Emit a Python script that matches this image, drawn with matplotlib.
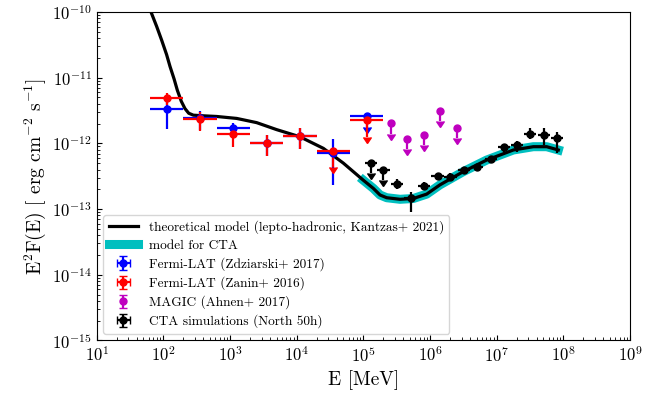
import numpy as np
import matplotlib.pyplot as plt
from matplotlib.ticker import LogLocator

plt.rcParams['font.family'] = 'serif'
plt.rcParams['font.serif'] = ['cmr10']
plt.rcParams['mathtext.fontset'] = 'cm'
plt.rcParams['axes.unicode_minus'] = False
plt.rcParams['axes.formatter.use_mathtext'] = True

# lepto-hadronic model (Kantzas+ 2021), E in MeV, E^2F(E) in erg/cm^2/s
model_E = np.array([65.3, 79.4, 94.4, 112, 126, 145, 162, 186, 211, 240, 282, 398, 631,
                    1259, 2512, 5012, 11220, 25120, 50120, 1.0e5, 1.41e5, 1.78e5, 2.24e5,
                    3.55e5, 5.62e5, 8.91e5, 1.41e6, 3.16e6, 7.08e6, 1.78e7, 3.55e7,
                    5.62e7, 8.41e7])
model_F = np.array([1.0e-10, 6.03e-11, 3.72e-11, 2.24e-11, 1.48e-11, 9.55e-12, 6.46e-12,
                    4.37e-12, 3.39e-12, 2.88e-12, 2.69e-12, 2.63e-12, 2.57e-12, 2.40e-12,
                    2.07e-12, 1.62e-12, 1.26e-12, 8.41e-13, 5.01e-13, 2.75e-13, 2.07e-13,
                    1.64e-13, 1.49e-13, 1.41e-13, 1.45e-13, 1.69e-13, 2.34e-13, 3.72e-13,
                    5.58e-13, 7.94e-13, 8.91e-13, 8.91e-13, 7.94e-13])
cta_model_from = 1.0e5

# Fermi-LAT energy bins (half-decade)
fermi_E = np.array([112, 355, 1120, 3550, 11200, 35500, 112000])
fermi_bin_lo = np.array([63, 200, 630, 2000, 6300, 20000, 63000])
fermi_bin_hi = np.array([200, 630, 2000, 6300, 20000, 63000, 200000])

# Fermi-LAT (Zdziarski+ 2017); last bin is an upper limit
zdz_F = np.array([3.34e-12, 2.41e-12, 1.70e-12, 1.00e-12, 1.31e-12, 7.10e-13, 2.60e-12])
zdz_lo = np.array([1.66e-12, 1.60e-12, 1.40e-12, 6.40e-13, 8.20e-13, 2.33e-13, 1.80e-12])
zdz_hi = np.array([4.57e-12, 3.16e-12, 2.07e-12, 1.34e-12, 1.73e-12, 1.15e-12, 2.60e-12])
zdz_ul = np.array([False, False, False, False, False, False, True])

# Fermi-LAT (Zanin+ 2016); last two bins are upper limits
zan_F = np.array([4.85e-12, 2.33e-12, 1.39e-12, 1.00e-12, 1.31e-12, 7.77e-13, 2.27e-12])
zan_lo = np.array([3.90e-12, 1.55e-12, 8.90e-13, 6.40e-13, 8.20e-13, 4.40e-13, 1.25e-12])
zan_hi = np.array([5.90e-12, 3.00e-12, 1.75e-12, 1.34e-12, 1.73e-12, 7.77e-13, 2.27e-12])
zan_ul = np.array([False, False, False, False, False, True, True])

# MAGIC (Ahnen+ 2017) upper limits
magic_E = np.array([2.57e5, 4.5e5, 8.0e5, 1.43e6, 2.54e6])
magic_F = np.array([2.02e-12, 1.17e-12, 1.36e-12, 3.15e-12, 1.70e-12])
magic_lo = np.array([1.41e-12, 8.2e-13, 9.5e-13, 2.2e-12, 1.19e-12])

# CTA simulations (North, 50 h)
cta_E = np.array([1.3e5, 2.0e5, 3.2e5, 5.1e5, 8.1e5, 1.3e6, 2.0e6, 3.2e6, 5.1e6, 8.1e6,
                  1.3e7, 2.0e7, 3.2e7, 5.1e7, 8.1e7])
cta_bin_lo = np.array([1.05e5, 1.62e5, 2.6e5, 4.1e5, 6.6e5, 1.05e6, 1.62e6, 2.6e6,
                       4.1e6, 6.6e6, 1.05e7, 1.62e7, 2.6e7, 4.1e7, 6.6e7])
cta_bin_hi = np.array([1.6e5, 2.5e5, 3.95e5, 6.3e5, 1.0e6, 1.6e6, 2.5e6, 3.95e6,
                       6.3e6, 1.0e7, 1.6e7, 2.5e7, 3.95e7, 6.3e7, 1.0e8])
cta_F = np.array([5.08e-13, 3.94e-13, 2.41e-13, 1.46e-13, 2.24e-13, 3.18e-13, 3.11e-13,
                  3.94e-13, 4.42e-13, 5.73e-13, 8.73e-13, 9.46e-13, 1.39e-12, 1.34e-12,
                  1.20e-12])
cta_lo = np.array([3.55e-13, 2.75e-13, 2.02e-13, 8.9e-14, 1.93e-13, 2.77e-13, 2.75e-13,
                   3.55e-13, 4.0e-13, 5.2e-13, 7.48e-13, 7.48e-13, 1.15e-12, 9.46e-13,
                   7.07e-13])
cta_hi = np.array([5.08e-13, 3.94e-13, 2.87e-13, 1.80e-13, 2.60e-13, 3.57e-13, 3.50e-13,
                   4.35e-13, 4.9e-13, 6.3e-13, 9.8e-13, 1.10e-12, 1.70e-12, 1.70e-12,
                   1.51e-12])
cta_ul = np.array([True, True] + [False] * 13)

fig = plt.figure(figsize=(6.64, 3.95), dpi=100)
ax = fig.add_axes([0.1456, 0.138, 0.8032, 0.8316])

ax.plot(model_E, model_F, color='k', lw=2.3, zorder=3,
        label='theoretical model (lepto-hadronic, Kantzas+ 2021)')
sel = model_E >= cta_model_from
ax.plot(model_E[sel], model_F[sel], color='c', lw=6.5, zorder=2, label='model for CTA')


def points(E, F, lo, hi, ul, color, label, xlo=None, xhi=None):
    xerr = None if xlo is None else [E - xlo, xhi - E]
    ax.errorbar(E, F, xerr=xerr, yerr=[F - lo, hi - F], uplims=ul, fmt='o', ms=5,
                color=color, elinewidth=1.6, zorder=4, label=label)


points(fermi_E, zdz_F, zdz_lo, zdz_hi, zdz_ul, 'b', 'Fermi-LAT (Zdziarski+ 2017)',
       fermi_bin_lo, fermi_bin_hi)
points(fermi_E, zan_F, zan_lo, zan_hi, zan_ul, 'r', 'Fermi-LAT (Zanin+ 2016)',
       fermi_bin_lo, fermi_bin_hi)
points(magic_E, magic_F, magic_lo, magic_F, np.ones(len(magic_E), bool), 'm',
       'MAGIC (Ahnen+ 2017)')
points(cta_E, cta_F, cta_lo, cta_hi, cta_ul, 'k', 'CTA simulations (North 50h)',
       cta_bin_lo, cta_bin_hi)

ax.set_xscale('log')
ax.set_yscale('log')
ax.set_xlim(1e1, 1e9)
ax.set_ylim(1e-15, 1e-10)
ax.xaxis.set_major_locator(LogLocator(base=10, numticks=20))
ax.xaxis.set_minor_locator(LogLocator(base=10, subs=np.arange(2, 10), numticks=100))
ax.yaxis.set_minor_locator(LogLocator(base=10, subs=np.arange(2, 10), numticks=100))
ax.tick_params(which='both', direction='in', labelsize=12)
ax.set_xlabel('E [MeV]', fontsize=14)
ax.set_ylabel(r'E$^2$F(E) [ erg cm$^{-2}$ s$^{-1}$]', fontsize=14, labelpad=3)

ax.legend(loc='lower left', fontsize=9.6, labelspacing=0.4, handlelength=2.2)

plt.savefig('out.png', dpi=100)
